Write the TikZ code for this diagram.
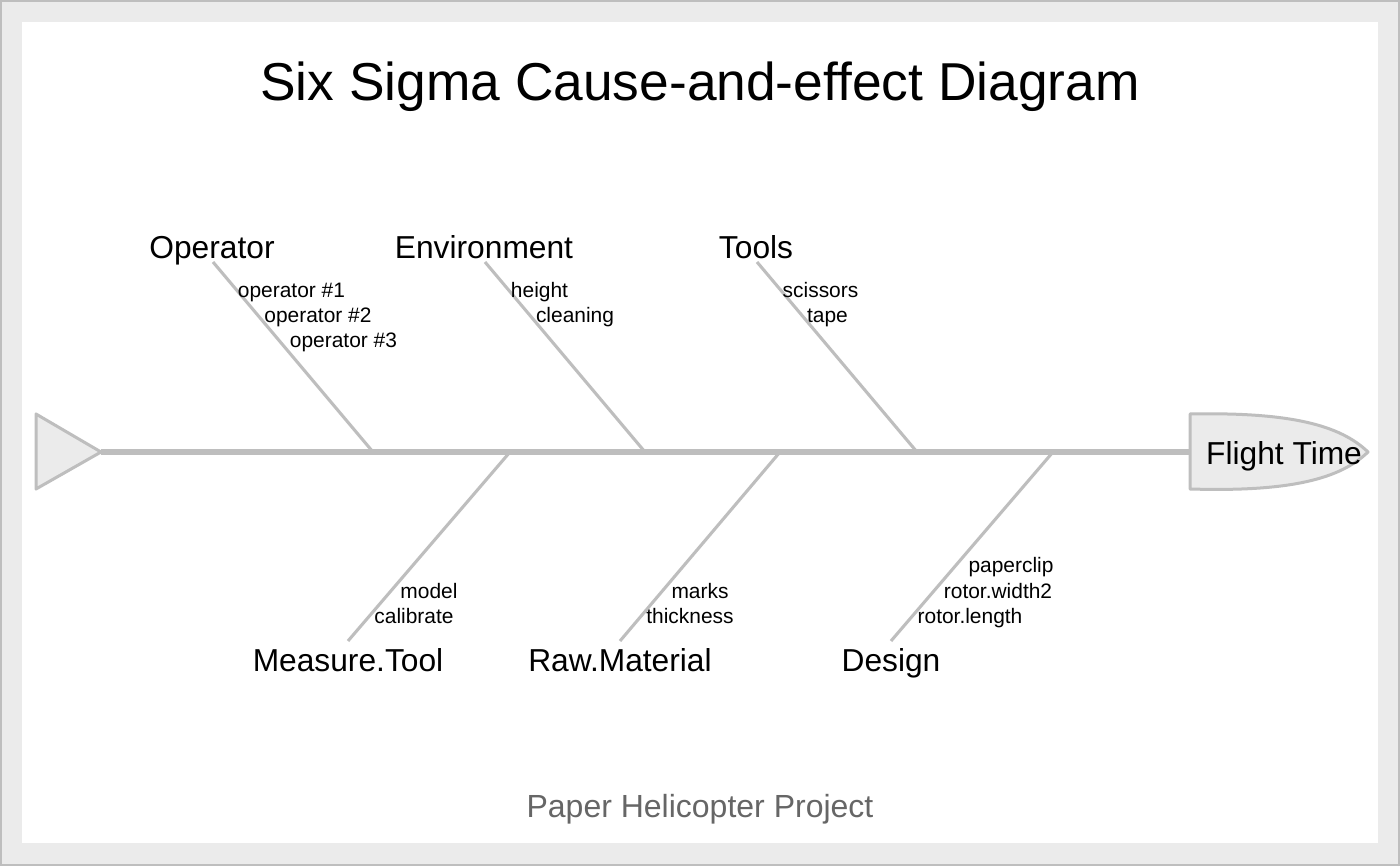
\documentclass[tikz,border=0pt]{standalone}
\usepackage{fontspec}
\setmainfont{Liberation Sans}
\definecolor{bonegray}{HTML}{BEBEBE}
\definecolor{panelgray}{HTML}{EBEBEB}
\definecolor{subgray}{HTML}{666666}
\begin{document}
\begin{tikzpicture}[x=0.75pt,y=-0.75pt,
  bone/.style={draw=bonegray,line width=2.3pt},
  spine/.style={draw=bonegray,line width=4.6pt},
  cat/.style={inner sep=0pt,anchor=base,font=\fontsize{23.8}{28}\selectfont},
  cause/.style={inner sep=0pt,anchor=base,font=\fontsize{15.7}{19}\selectfont},
  endshape/.style={draw=bonegray,fill=panelgray,line width=2.25pt,line join=round}]
\useasboundingbox (0,0) rectangle (1400,866);
\fill[bonegray] (0,0) rectangle (1400,866);
\fill[panelgray] (2,2) rectangle (1398,864);
\fill[white] (22,22) rectangle (1378,843);
% title
\node[inner sep=0pt,anchor=base,font=\fontsize{40}{48}\selectfont] (title) at (700,101) {Six Sigma Cause-and-effect Diagram};
\node[inner sep=0pt,anchor=base,text=subgray,font=\fontsize{24}{28}\selectfont] (sub) at (700,817) {Paper Helicopter Project};
% spine
\coordinate (tailtip) at (101,452);
\coordinate (headbase) at (1190,452);
\draw[spine] (tailtip) -- (headbase);
\draw[endshape] (36,414) -- (36,489) -- (tailtip) -- cycle;
\draw[endshape] (1190,414) .. controls (1290,412) and (1340,425) .. (1368,452)
  .. controls (1340,479) and (1290,492) .. (1190,489) -- cycle;
\node[cat] (effect) at (1284,464) {Flight Time};
% bone roots on spine
\coordinate (r1) at (373,452);
\coordinate (r2) at (645,452);
\coordinate (r3) at (917,452);
\coordinate (r4) at (510,452);
\coordinate (r5) at (780,452);
\coordinate (r6) at (1053,452);
% bone ends
\coordinate (e1) at (213,262);
\coordinate (e2) at (485,262);
\coordinate (e3) at (757,262);
\coordinate (e4) at (348,641);
\coordinate (e5) at (620,641);
\coordinate (e6) at (891,641);
\foreach \i in {1,...,6} {\draw[bone] (r\i) -- (e\i);}
% categories
\node[cat] (operator) at (212,259) {Operator};
\node[cat] (environment) at (484,259) {Environment};
\node[cat] (tools) at (756,259) {Tools};
\node[cat] (measure) at (348,671) {Measure.Tool};
\node[cat] (raw) at (620,671) {Raw.Material};
\node[cat] (design) at (891,671) {Design};
% causes
\node[cause] (o1) at (291.5,298) {operator \#1};
\node[cause] (o2) at (318,323) {operator \#2};
\node[cause] (o3) at (343.5,348) {operator \#3};
\node[cause] (h1) at (539.5,298) {height};
\node[cause] (h2) at (575,323) {cleaning};
\node[cause] (t1) at (820.5,298) {scissors};
\node[cause] (t2) at (827.5,323) {tape};
\node[cause] (m1) at (429,598) {model};
\node[cause] (m2) at (414,623) {calibrate};
\node[cause] (w1) at (700,598) {marks};
\node[cause] (w2) at (690,623) {thickness};
\node[cause] (d1) at (1011,572.5) {paperclip};
\node[cause] (d2) at (998,598) {rotor.width2};
\node[cause] (d3) at (970,623) {rotor.length};
\end{tikzpicture}
\end{document}
